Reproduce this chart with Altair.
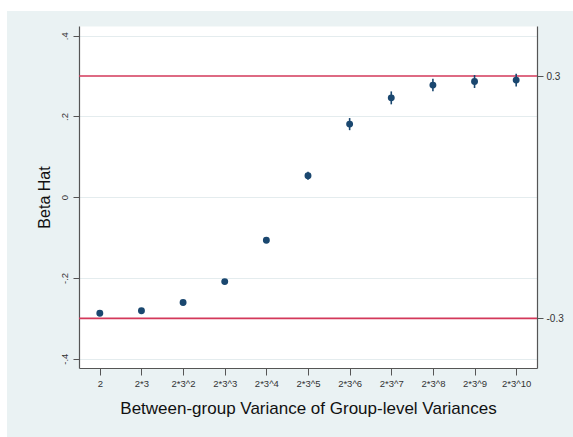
import json
import altair as alt
import pandas as pd

categories = ["2", "2*3", "2*3^2", "2*3^3", "2*3^4", "2*3^5",
              "2*3^6", "2*3^7", "2*3^8", "2*3^9", "2*3^10"]
beta_hat = [-0.2875, -0.281, -0.261, -0.209, -0.1066, 0.053,
            0.181, 0.246, 0.2776, 0.2865, 0.290]
half_ci = [0.003, 0.003, 0.004, 0.004, 0.005, 0.010,
           0.015, 0.016, 0.0155, 0.016, 0.016]
ref_lines = [-0.3, 0.3]
ref_labels = ["-0.3", "0.3"]
y_ticks = [-0.4, -0.2, 0.0, 0.2, 0.4]
y_tick_labels = ["-.4", "-.2", "0", ".2", ".4"]

df = pd.DataFrame({
    "idx": list(range(len(categories))),
    "cat": categories,
    "est": beta_hat,
    "lo": [b - h for b, h in zip(beta_hat, half_ci)],
    "hi": [b + h for b, h in zip(beta_hat, half_ci)],
})
ref_df = pd.DataFrame({"ref": ref_lines, "lab": ref_labels})

W, H = 458, 342
FONT = "Liberation Sans"
NAVY = "#1A476F"
RED = "#D3385A"
BG = "#EAF2F3"
AXC = "#555555"


def lab_expr(vals, labs):
    parts = [f"abs(datum.value - ({v})) < 1e-9 ? '{l}'" for v, l in zip(vals, labs)]
    return " : ".join(parts) + " : ''"


yscale = alt.Scale(domain=[-0.423, 0.424], nice=False, zero=False)
xscale = alt.Scale(domain=[-0.5, len(categories) - 0.5], nice=False, zero=False)

x_axis = alt.Axis(
    values=list(range(len(categories))),
    labelExpr=json.dumps(categories) + "[round(datum.value)]",
    grid=False, tickSize=7, tickColor=AXC, domainColor=AXC, domainWidth=1.2,
    labelFont=FONT, labelFontSize=9.5, labelColor="#333333", labelPadding=3,
    title="Between-group Variance of Group-level Variances",
    titleFont=FONT, titleFontSize=17, titleFontWeight="normal", titleColor="#111111",
    titleX=W / 2, titleY=40, titleAlign="center", titleBaseline="middle",
)

left_axis = alt.Axis(
    orient="left", values=y_ticks, labelExpr=lab_expr(y_ticks, y_tick_labels),
    grid=True, gridColor="#E4ECEE", gridWidth=1,
    tickSize=6, tickColor=AXC, domainColor=AXC, domainWidth=1.2,
    labelFont=FONT, labelFontSize=9.5, labelColor="#333333", labelPadding=4,
    labelAngle=270, labelAlign="center", labelBaseline="bottom",
    title="Beta Hat", titleFont=FONT, titleFontSize=16, titleFontWeight="normal",
    titleColor="#111111", titleAngle=270, titleX=-35, titleY=H / 2,
    titleAlign="center", titleBaseline="middle",
)

right_axis = alt.Axis(
    orient="right", values=ref_lines, labelExpr=lab_expr(ref_lines, ref_labels),
    grid=False, tickSize=6, tickColor=AXC, domainColor=AXC, domainWidth=1.2,
    labelFont=FONT, labelFontSize=10, labelColor="#333333", labelPadding=3,
    title=None,
)

blank = alt.Data(values=[{}])
top_strip = alt.Chart(blank).mark_rect(color="white").encode(
    x=alt.value(-79), x2=alt.value(494), y=alt.value(-26), y2=alt.value(-15))
left_strip = alt.Chart(blank).mark_rect(color="white").encode(
    x=alt.value(-79), x2=alt.value(-72), y=alt.value(-26), y2=alt.value(411))

rules = alt.Chart(ref_df).mark_rule(color=RED, strokeWidth=1.6).encode(
    y=alt.Y("ref:Q", scale=yscale, axis=right_axis))

errs = alt.Chart(df).mark_rule(color=NAVY, strokeWidth=1.6).encode(
    x=alt.X("idx:Q", scale=xscale, axis=x_axis),
    y=alt.Y("lo:Q", scale=yscale, axis=None),
    y2="hi:Q")

pts = alt.Chart(df).mark_circle(color=NAVY, opacity=1, size=48).encode(
    x=alt.X("idx:Q", scale=xscale, axis=x_axis),
    y=alt.Y("est:Q", scale=yscale, axis=left_axis))

chart = alt.layer(top_strip, left_strip, rules, errs, pts).resolve_axis(
    y="independent"
).properties(
    width=W, height=H,
    autosize=alt.AutoSizeParams(type="none"),
    padding={"left": 79, "top": 26, "right": 36, "bottom": 69},
    background=BG,
).configure_view(fill="white", stroke="transparent").configure_axis(
    titleFontWeight="normal"
)

chart.save("out.html", embed_options={"renderer": "svg", "actions": False})
